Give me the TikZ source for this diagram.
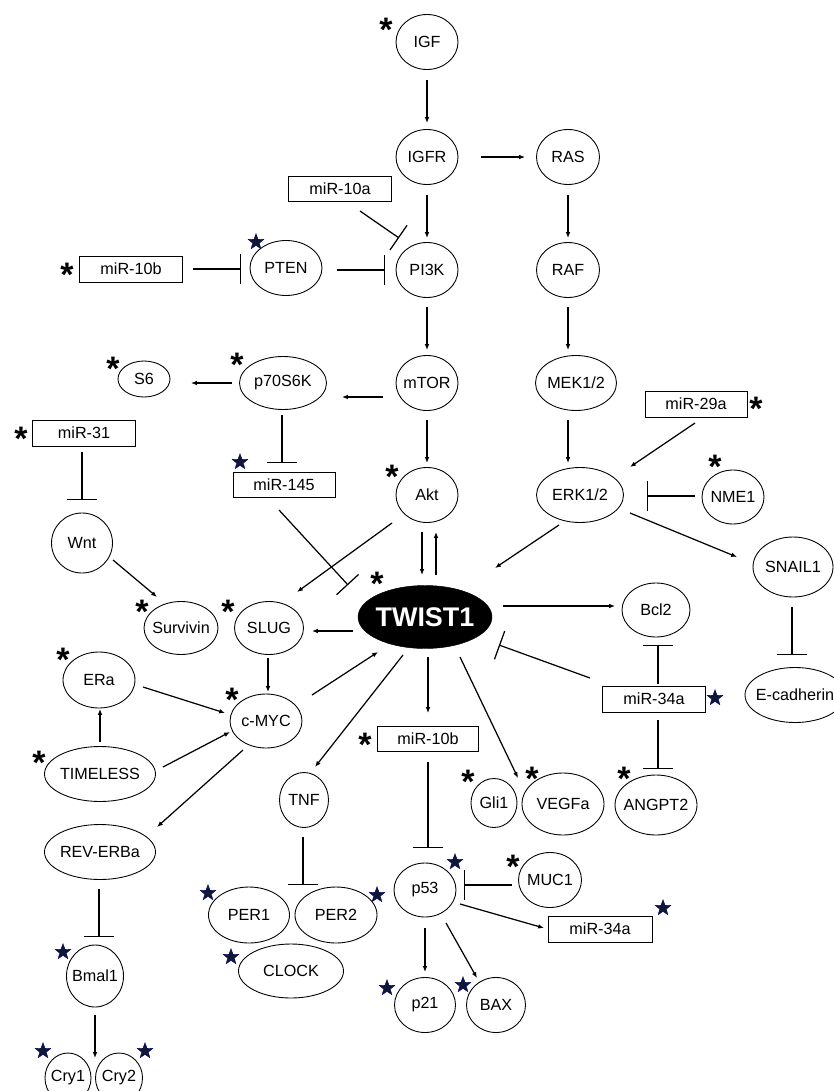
\documentclass[tikz,border=0pt]{standalone}
\usepackage{fontspec}
\setmainfont{Liberation Sans}
\usetikzlibrary{shapes.geometric,arrows.meta}
\definecolor{starblue}{RGB}{14,24,52}

\begin{document}
\begin{tikzpicture}[x=0.3mm,y=-0.3mm,
        mol/.style 2 args={ellipse, draw, line width=0.75pt, inner xsep=-10mm, inner ysep=-10mm,
            minimum width=#1*0.3mm, minimum height=#2*0.3mm, font=\fontsize{13.8}{16}\selectfont},
        mir/.style 2 args={rectangle, draw, line width=0.85pt, inner sep=0pt,
            minimum width=#1*0.3mm, minimum height=#2*0.3mm, font=\fontsize{13.8}{16}\selectfont},
        twist/.style={ellipse, draw, fill=black, text=white, inner xsep=-10mm, inner ysep=-10mm,
            minimum width=134*0.3mm, minimum height=63*0.3mm, font=\fontsize{23}{26}\selectfont\bfseries},
        act/.style={line width=1.05pt, -{Latex[length=5pt,width=4pt]}},
        inh/.style={line width=1.05pt, -{Bar[width=9mm]}},
        ast/.style={font=\fontsize{29}{29}\selectfont\bfseries, inner sep=0pt, anchor=north, yshift=1.6mm},
        bstar/.style={star, star points=5, star point ratio=2.4, fill=starblue, draw=blue!45!black,
            line width=0.3pt, inner sep=0pt, minimum size=5mm}]
    \useasboundingbox (0,0) rectangle (834,1091);

    \node[mol={62}{55}] (igf) at (427,42) {IGF};
    \node[mol={62}{55}] (igfr) at (427,157) {IGFR};
    \node[mol={63}{55}] (ras) at (568,157) {RAS};
    \node[mol={62}{55}] (pi3k) at (427,270) {PI3K};
    \node[mol={63}{55}] (raf) at (568,270) {RAF};
    \node[mol={72}{55}] (pten) at (286,268) {PTEN};
    \node[mir={103}{26}] (mir10b) at (131,269) {miR-10b};
    \node[mir={103}{25}] (mir10a) at (340,189) {miR-10a};
    \node[mol={62}{55}] (mtor) at (427,383) {mTOR};
    \node[mol={81}{55}] (mek) at (576,383) {MEK1/2};
    \node[mol={87}{53}] (p70) at (283,383) {p70S6K};
    \node[mol={52}{36}] (s6) at (144,379) {S6};
    \node[mir={103}{26}] (mir31) at (84,433) {miR-31};
    \node[mir={102}{25}] (mir145) at (284,485) {miR-145};
    \node[mol={62}{55}] (akt) at (427,495) {Akt};
    \node[mol={87}{55}] (erk) at (580,495) {ERK1/2};
    \node[mir={102}{26}] (mir29a) at (696,404) {miR-29a};
    \node[mol={62}{54}] (nme1) at (733,497) {NME1};
    \node[mol={80}{60}] (snail1) at (793,567) {SNAIL1};
    \node[mol={100}{55}] (ecad) at (795,695) {E-cadherin};
    \node[mol={61}{60}] (wnt) at (82,543) {Wnt};
    \node[mol={74}{53}] (survivin) at (181,628) {Survivin};
    \node[mol={69}{53}] (slug) at (269,628) {SLUG};
    \node[twist] (twist1) at (425,617) {TWIST1};
    \node[mol={68}{54}] (bcl2) at (656,610) {Bcl2};
    \node[mir={103}{26}] (mir34a) at (654,699) {miR-34a};
    \node[mol={82}{60}] (angpt2) at (656,805) {ANGPT2};
    \node[mol={72}{56}] (era) at (99,680) {ERa};
    \node[mol={72}{54}] (cmyc) at (266,721) {c-MYC};
    \node[mol={111}{55}] (timeless) at (100,774) {TIMELESS};
    \node[mol={111}{55}] (reverba) at (100,852) {REV-ERBa};
    \node[mol={57}{62}] (bmal1) at (95,976) {Bmal1};
    \node[mol={46}{50}] (cry1) at (68,1078) {Cry1};
    \node[mol={47}{50}] (cry2) at (119,1078) {Cry2};
    \node[mol={49}{55}] (tnf) at (304,800) {TNF};
    \node[mol={81}{56}] (per1) at (249,915) {PER1};
    \node[mol={82}{56}] (per2) at (336,915) {PER2};
    \node[mol={105}{54}] (clock) at (291,971) {CLOCK};
    \node[mir={101}{25}] (mir10bb) at (428,739) {miR-10b};
    \node[mol={46}{49}] (gli1) at (494,803) {Gli1};
    \node[mol={82}{62}] (vegfa) at (563,804) {VEGFa};
    \node[mol={62}{54}] (p53) at (425,890) {p53};
    \node[mol={63}{55}] (muc1) at (550,880) {MUC1};
    \node[mir={104}{26}] (mir34ab) at (600,929) {miR-34a};
    \node[mol={61}{55}] (p21) at (425,1005) {p21};
    \node[mol={59}{55}] (bax) at (496,1005) {BAX};

    \draw[act] ([shift={(0,38)}]igf.center) -- ([shift={(0,-34)}]igfr.center);
    \draw[act] ([shift={(54,0)}]igfr.center) -- ([shift={(-43,0)}]ras.center);
    \draw[act] ([shift={(0,38)}]igfr.center) -- ([shift={(0,-32)}]pi3k.center);
    \draw[act] ([shift={(0,38)}]ras.center) -- ([shift={(0,-32)}]raf.center);
    \draw[act] ([shift={(0,37)}]pi3k.center) -- ([shift={(0,-33)}]mtor.center);
    \draw[act] ([shift={(0,37)}]raf.center) -- ([shift={(-8,-33)}]mek.center);
    \draw[inh] ([shift={(20,22)}]mir10a.center) -- ([shift={(-28,-32)}]pi3k.center);
    \draw[inh] ([shift={(62,0)}]mir10b.center) -- ([shift={(-45,1)}]pten.center);
    \draw[inh] ([shift={(51,2)}]pten.center) -- ([shift={(-42,0)}]pi3k.center);
    \draw[act] ([shift={(-44,14)}]mtor.center) -- ([shift={(59,14)}]p70.center);
    \draw[act] ([shift={(-51,0)}]p70.center) -- ([shift={(47,4)}]s6.center);
    \draw[inh] ([shift={(-1,32)}]p70.center) -- ([shift={(-2,-22)}]mir145.center);
    \draw[act] ([shift={(0,37)}]mtor.center) -- ([shift={(0,-32)}]akt.center);
    \draw[act] ([shift={(-8,37)}]mek.center) -- ([shift={(-12,-32)}]erk.center);
    \draw[act] ([shift={(-1,19)}]mir29a.center) -- ([shift={(50,-28)}]erk.center);
    \draw[inh] ([shift={(-38,-1)}]nme1.center) -- ([shift={(67,1)}]erk.center);
    \draw[act] ([shift={(-21,30)}]erk.center) -- ([shift={(70,-49)}]twist1.center);
    \draw[act] ([shift={(50,18)}]erk.center) -- ([shift={(-56,-10)}]snail1.center);
    \draw[inh] ([shift={(-1,40)}]snail1.center) -- ([shift={(-3,-40)}]ecad.center);
    \draw[inh] ([shift={(-2,19)}]mir31.center) -- ([shift={(0,-43)}]wnt.center);
    \draw[act] ([shift={(31,17)}]wnt.center) -- ([shift={(-24,-31)}]survivin.center);
    \draw[inh] ([shift={(-5,25)}]mir145.center) -- ([shift={(-77,-32)}]twist1.center);
    \draw[act] ([shift={(-35,28)}]akt.center) -- ([shift={(28,-36)}]slug.center);
    \draw[act] ([shift={(-5,37)}]akt.center) -- ([shift={(-3,-42)}]twist1.center);
    \draw[act] ([shift={(11,-42)}]twist1.center) -- ([shift={(9,37)}]akt.center);
    \draw[act] ([shift={(-72,14)}]twist1.center) -- ([shift={(43,3)}]slug.center);
    \draw[act] ([shift={(78,-11)}]twist1.center) -- ([shift={(-41,-4)}]bcl2.center);
    \draw[inh] ([shift={(4,-15)}]mir34a.center) -- ([shift={(2,35)}]bcl2.center);
    \draw[inh] ([shift={(-64,-21)}]mir34a.center) -- ([shift={(74,28)}]twist1.center);
    \draw[inh] ([shift={(4,21)}]mir34a.center) -- ([shift={(2,-36)}]angpt2.center);
    \draw[act] ([shift={(3,40)}]twist1.center) -- ([shift={(0,-26)}]mir10bb.center);
    \draw[act] ([shift={(35,40)}]twist1.center) -- ([shift={(-45,-26)}]vegfa.center);
    \draw[act] ([shift={(-22,38)}]twist1.center) -- ([shift={(11,-33)}]tnf.center);
    \draw[act] ([shift={(46,-26)}]cmyc.center) -- ([shift={(-47,35)}]twist1.center);
    \draw[act] ([shift={(-1,30)}]slug.center) -- ([shift={(2,-29)}]cmyc.center);
    \draw[act] ([shift={(44,7)}]era.center) -- ([shift={(-41,-8)}]cmyc.center);
    \draw[act] ([shift={(0,-32)}]timeless.center) -- ([shift={(1,29)}]era.center);
    \draw[act] ([shift={(63,-7)}]timeless.center) -- ([shift={(-36,11)}]cmyc.center);
    \draw[act] ([shift={(-23,29)}]cmyc.center) -- ([shift={(57,-25)}]reverba.center);
    \draw[inh] ([shift={(-1,37)}]reverba.center) -- ([shift={(4,-39)}]bmal1.center);
    \draw[act] ([shift={(0,39)}]bmal1.center) -- ([shift={(27,-20)}]cry1.center);
    \draw[inh] ([shift={(-1,37)}]tnf.center) -- ([shift={(-33,-30)}]per2.center);
    \draw[inh] ([shift={(0,23)}]mir10bb.center) -- ([shift={(3,-42)}]p53.center);
    \draw[inh] ([shift={(-38,5)}]muc1.center) -- ([shift={(39,-5)}]p53.center);
    \draw[act] ([shift={(35,14)}]p53.center) -- ([shift={(-56,-1)}]mir34ab.center);
    \draw[act] ([shift={(0,38)}]p53.center) -- ([shift={(0,-33)}]p21.center);
    \draw[act] ([shift={(21,33)}]p53.center) -- ([shift={(-19,-27)}]bax.center);

    \node[ast] (a-igf) at (386,23) {*};
    \node[ast] (a-mir10b) at (67,268) {*};
    \node[ast] (a-s6) at (113,362) {*};
    \node[ast] (a-p70) at (237,358) {*};
    \node[ast] (a-mir31) at (21,432) {*};
    \node[ast] (a-akt) at (392,470) {*};
    \node[ast] (a-twist1) at (377,577) {*};
    \node[ast] (a-survivin) at (142,605) {*};
    \node[ast] (a-slug) at (228,605) {*};
    \node[ast] (a-era) at (63,653) {*};
    \node[ast] (a-cmyc) at (232,693) {*};
    \node[ast] (a-timeless) at (39,756) {*};
    \node[ast] (a-mir29a) at (756,402) {*};
    \node[ast] (a-nme1) at (715,460) {*};
    \node[ast] (a-mir10bb) at (365,738) {*};
    \node[ast] (a-gli1) at (468,775) {*};
    \node[ast] (a-vegfa) at (532,772) {*};
    \node[ast] (a-angpt2) at (624,772) {*};
    \node[ast] (a-muc1) at (513,860) {*};

    \node[bstar] (s-pten) at (256,242) {};
    \node[bstar] (s-mir145) at (240,462) {};
    \node[bstar] (s-mir34a) at (715,698) {};
    \node[bstar] (s-bmal1) at (63,952) {};
    \node[bstar] (s-cry1) at (43,1051) {};
    \node[bstar] (s-cry2) at (145,1051) {};
    \node[bstar] (s-per1) at (208,893) {};
    \node[bstar] (s-per2) at (377,895) {};
    \node[bstar] (s-clock) at (231,957) {};
    \node[bstar] (s-p53) at (455,862) {};
    \node[bstar] (s-mir34ab) at (663,908) {};
    \node[bstar] (s-p21) at (387,988) {};
    \node[bstar] (s-bax) at (463,985) {};
\end{tikzpicture}
\end{document}
